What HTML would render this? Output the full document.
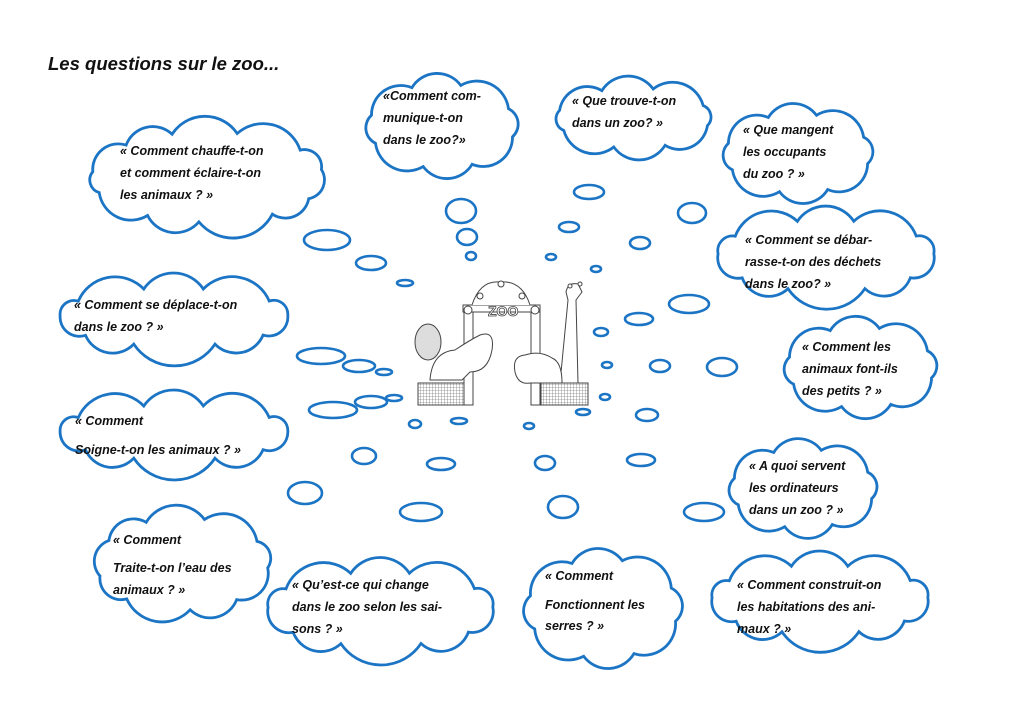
<!DOCTYPE html>
<html><head><meta charset="utf-8"><style>
html,body{margin:0;padding:0;background:#fff;}
svg{display:block}
text{font-family:"Liberation Sans",sans-serif;font-weight:bold;font-style:italic;fill:#111;}
.t{font-size:12.5px}
</style></head><body>
<svg id="s" width="1024" height="724" viewBox="0 0 1024 724" xmlns="http://www.w3.org/2000/svg">
<defs>
<pattern id="h" width="3" height="3" patternUnits="userSpaceOnUse"><path d="M0 0H3M0 0V3" stroke="#555" stroke-width="0.6"/></pattern>
</defs>
<g id="ell" fill="none" stroke="#1b74c4" stroke-width="2.6"></g>
<g id="clouds"></g>
<g fill="#fff" stroke="#444" stroke-width="1">
<rect x="418" y="383" width="48" height="22" fill="url(#h)"/>
<rect x="541" y="383" width="47" height="22" fill="url(#h)"/>
<path d="M560 383 L568 300 L566 292 Q568 282 578 284 L582 292 L576 300 L578 383 Z"/>
<circle cx="570" cy="286" r="2" /><circle cx="580" cy="284" r="2"/>
<ellipse cx="428" cy="342" rx="13" ry="18" fill="#ddd"/>
<path d="M463 305 L540 305 L540 312 L463 312 Z"/>
<path d="M472 305 Q480 280 500 282 Q522 280 530 305"/>
<rect x="464" y="312" width="9" height="93"/>
<rect x="531" y="312" width="9" height="93"/>
<circle cx="468" cy="310" r="4"/><circle cx="535" cy="310" r="4"/>
<circle cx="480" cy="296" r="3"/><circle cx="522" cy="296" r="3"/><circle cx="501" cy="284" r="3"/>
<path d="M430 380 Q432 352 455 350 Q470 340 480 335 Q495 330 492 350 Q488 372 470 372 L462 380 Z"/>
<path d="M515 372 Q512 356 525 355 Q540 350 552 358 Q562 362 562 383 L530 383 Q518 385 515 372 Z"/>
</g>
<text x="488" y="316" style="font-size:14px;font-style:normal;fill:#fff;stroke:#444;stroke-width:0.8">ZOO</text>
<text x="48" y="70" style="font-size:18.5px">Les questions sur le zoo...</text>
</svg>
<script>
var NS="http://www.w3.org/2000/svg";
var E=[[327,240,23,10],[371,263,15,7],[405,283,8,3],[461,211,15,12],[467,237,10,8],[471,256,5,4],[321,356,24,8],[359,366,16,6],[384,372,8,3],[333,410,24,8],[371,402,16,6],[394,398,8,3],[415,424,6,4],[459,421,8,3],[364,456,12,8],[441,464,14,6],[305,493,17,11],[421,512,21,9],
[563,507,15,11],[545,463,10,7],[529,426,5,3],[583,412,7,3],[605,397,5,3],[607,365,5,3],[660,366,10,6],[722,367,15,9],[647,415,11,6],[641,460,14,6],[704,512,20,9],[601,332,7,4],[639,319,14,6],[689,304,20,9],[596,269,5,3],[551,257,5,3],[569,227,10,5],[589,192,15,7],[640,243,10,6],[692,213,14,10]];
var g=document.getElementById("ell");
E.forEach(function(e){var el=document.createElementNS(NS,"ellipse");el.setAttribute("cx",e[0]);el.setAttribute("cy",e[1]);el.setAttribute("rx",e[2]);el.setAttribute("ry",e[3]);g.appendChild(el);});
var C=[
[80,120,335,234,[[120,155,"« Comment chauffe-t-on"],[120,177,"et comment éclaire-t-on"],[120,199,"les animaux ? »"]]],
[357,72,527,180,[[383,100,"«Comment com-"],[383,122,"munique-t-on"],[383,144,"dans le zoo?»"]]],
[545,76,722,160,[[572,105,"« Que trouve-t-on"],[572,127,"dans un zoo? »"]]],
[714,102,882,205,[[743,134,"« Que mangent"],[743,156,"les occupants"],[743,178,"du zoo ? »"]]],
[706,208,946,303,[[745,244,"« Comment se débar-"],[745,266,"rasse-t-on des déchets"],[745,288,"dans le zoo? »"]]],
[775,315,946,420,[[802,351,"« Comment les"],[802,373,"animaux font-ils"],[802,395,"des petits ? »"]]],
[720,437,886,540,[[749,470,"« A quoi servent"],[749,492,"les ordinateurs"],[749,514,"dans un zoo ? »"]]],
[700,553,940,646,[[737,589,"« Comment construit-on"],[737,611,"les habitations des ani-"],[737,633,"maux ? »"]]],
[516,547,690,670,[[545,580,"« Comment"],[545,609,"Fonctionnent les"],[545,630,"serres ? »"]]],
[256,560,505,658,[[292,589,"« Qu’est-ce qui change"],[292,611,"dans le zoo selon les sai-"],[292,633,"sons ? »"]]],
[85,506,280,622,[[113,544,"« Comment"],[113,572,"Traite-t-on l’eau des"],[113,594,"animaux ? »"]]],
[48,393,300,472,[[75,425,"« Comment"],[75,454,"Soigne-t-on les animaux ? »"]]],
[48,276,300,358,[[74,309,"« Comment se déplace-t-on"],[74,331,"dans le zoo ? »"]]]
];
var cg=document.getElementById("clouds");
C.forEach(function(c){
 var cx=(c[0]+c[2])/2,cy=(c[1]+c[3])/2,rx=(c[2]-c[0])/2-12,ry=(c[3]-c[1])/2-12;
 var per=Math.PI*(3*(rx+ry)-Math.sqrt((3*rx+ry)*(rx+3*ry)));
 var n=Math.max(8,Math.round(per/48));
 var pts=[];for(var i=0;i<n;i++){var a=-Math.PI/2+0.3+i*2*Math.PI/n+(i%2?0.06:-0.04);pts.push([cx+rx*Math.cos(a),cy+ry*Math.sin(a)]);}
 var d="M"+pts[0][0].toFixed(1)+" "+pts[0][1].toFixed(1);
 for(var i=1;i<=n;i++){var p=pts[i%n],q=pts[i-1];var ch=Math.hypot(p[0]-q[0],p[1]-q[1]);var r=ch*0.6;d+=" A"+r.toFixed(1)+" "+r.toFixed(1)+" 0 0 1 "+p[0].toFixed(1)+" "+p[1].toFixed(1);}
 d+="Z";
 var path=document.createElementNS(NS,"path");path.setAttribute("d",d);path.setAttribute("fill","#fff");path.setAttribute("stroke","#1b74c4");path.setAttribute("stroke-width","2.8");cg.appendChild(path);
 c[4].forEach(function(t){var tx=document.createElementNS(NS,"text");tx.setAttribute("x",t[0]);tx.setAttribute("y",t[1]);tx.setAttribute("class","t");tx.textContent=t[2];cg.appendChild(tx);});
});
</script>
</body></html>
